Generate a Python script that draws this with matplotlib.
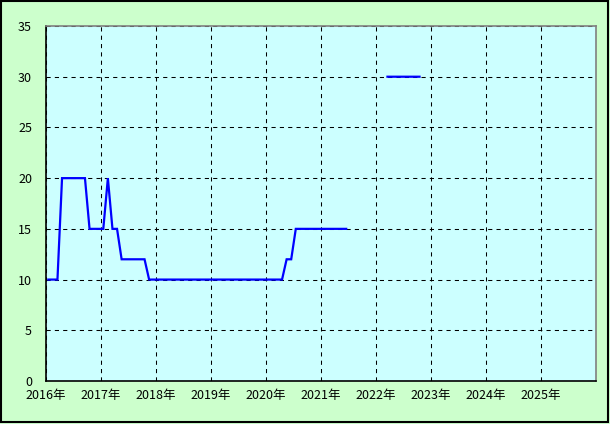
import numpy as np
import matplotlib.pyplot as plt
from matplotlib.patches import Rectangle

plt.rcParams['font.family'] = ['Noto Sans CJK JP', 'DejaVu Sans']

# monthly values starting Jan 2016 (NaN = no data)
nan = np.nan
values_2016 = [10, 10, 10, 20, 20, 20, 20, 20, 20, 15, 15, 15]
values_2017 = [15, 20, 15, 15, 12, 12, 12, 12, 12, 12, 10, 10]
values_2018 = [10] * 12
values_2019 = [10] * 12
values_2020 = [10, 10, 10, 10, 12, 12, 15, 15, 15, 15, 15, 15]
values_2021 = [15, 15, 15, 15, 15, 15, nan, nan, nan, nan, nan, nan]
values_2022 = [nan, nan, 30, 30, 30, 30, 30, 30, 30, 30]

year_ticks = list(range(2016, 2026))
year_labels = [f'{y}年' for y in year_ticks]
y_ticks = list(range(0, 36, 5))

values = np.array(values_2016 + values_2017 + values_2018 + values_2019
                  + values_2020 + values_2021 + values_2022, dtype=float)
# plot each month at its middle
t = 2016 + (np.arange(len(values)) + 0.5) / 12.0

fig = plt.figure(figsize=(6.1, 4.24), dpi=100, facecolor='#ccffcc')
ax = fig.add_axes([46 / 610, 43 / 424, 550 / 610, 355 / 424])
ax.set_facecolor('#ccffff')

ax.plot(t, values, color='#0000ff', linewidth=1.6, solid_joinstyle='miter', zorder=3)

ax.set_xlim(2016, 2026)
ax.set_ylim(0, 35)
ax.set_xticks(year_ticks)
ax.set_xticklabels(year_labels)
ax.set_yticks(y_ticks)
ax.tick_params(length=0, labelsize=9, colors='black')
ax.tick_params(axis='y', pad=10)
ax.tick_params(axis='x', pad=6)

ax.grid(True, color='black', linestyle=(0, (4, 4)), linewidth=0.75)
ax.set_axisbelow(True)

for side in ['left', 'bottom']:
    ax.spines[side].set_color('black')
    ax.spines[side].set_linewidth(1.2)
for side in ['top', 'right']:
    ax.spines[side].set_color('#808080')
    ax.spines[side].set_linewidth(1.2)

# outer chart border
fig.patches.append(Rectangle((0.001, 0.004), 0.996, 0.994, transform=fig.transFigure,
                             fill=False, edgecolor='black', linewidth=1.5))

fig.savefig('out.png', dpi=100, facecolor=fig.get_facecolor())
